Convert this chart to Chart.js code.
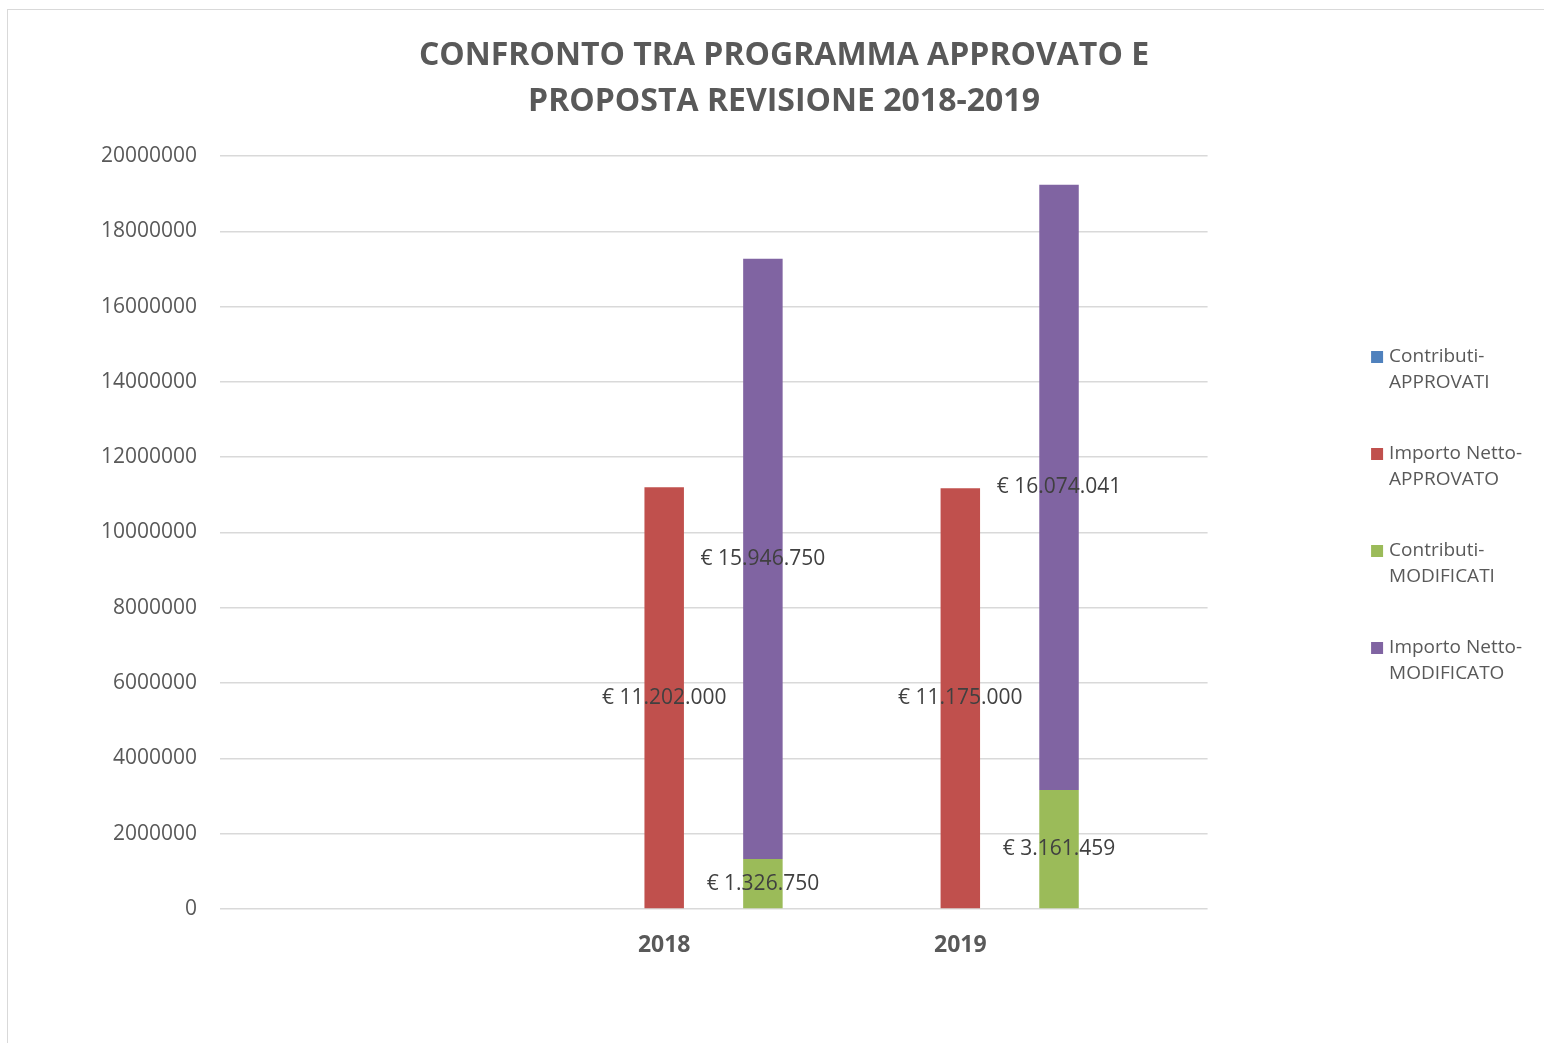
<!DOCTYPE html>
<html>
<head>
<meta charset="utf-8">
<script src="https://cdn.jsdelivr.net/npm/chart.js@4.4.0/dist/chart.umd.min.js"></script>
<style>
    html, body { margin: 0; padding: 0; background: #fff; overflow: hidden; }
    #frame {
        position: absolute; left: 7px; top: 9px;
        width: 1560px; height: 1100px;
        border-top: 1px solid #d9d9d9; border-left: 1px solid #d9d9d9;
    }
    #box { position: relative; width: 1552px; height: 1018px; }
</style>
</head>
<body>
<div id="frame"><div id="box"><canvas id="revisioneChart"></canvas></div></div>
<script>
// Data
const years = [2018, 2019];
const contributiApprovati = [0, 0];
const nettoApprovato = [11202000, 11175000];
const contributiModificati = [1326750, 3161459];
const nettoModificato = [15946750, 16074041];
const seriesNames = ['Contributi-APPROVATI', 'Importo Netto-APPROVATO', 'Contributi-MODIFICATI', 'Importo Netto-MODIFICATO'];
const titleLines = ['CONFRONTO TRA PROGRAMMA APPROVATO E', 'PROPOSTA REVISIONE 2018-2019'];
const yMax = 20000000;
const yStep = 2000000;
const xMin = 2016.5;
const xMax = 2019.835;

const grey = '#595959';
Chart.defaults.font.family = "'Open Sans', sans-serif";
Chart.defaults.color = grey;

function points(values) {
    return years.map((yr, i) => ({ x: yr, y: values[i] }));
}

// € 11.202.000 style
function euro(v) {
    return '€ ' + String(v).replace(/\B(?=(\d{3})+(?!\d))/g, '.');
}

// Draws the value of each segment in its middle
const valueLabels = {
    id: 'valueLabels',
    afterDatasetsDraw(chart) {
        const ctx = chart.ctx;
        ctx.save();
        ctx.font = "21px 'Open Sans', sans-serif";
        ctx.fillStyle = '#404040';
        ctx.textAlign = 'center';
        ctx.textBaseline = 'middle';
        chart.data.datasets.forEach((ds, di) => {
            const meta = chart.getDatasetMeta(di);
            meta.data.forEach((bar, i) => {
                const v = ds.data[i].y;
                if (!v) return;
                ctx.fillText(euro(v), bar.x, (bar.y + bar.base) / 2);
            });
        });
        ctx.restore();
    }
};

const ctx = document.getElementById('revisioneChart').getContext('2d');
new Chart(ctx, {
    type: 'bar',
    data: {
        datasets: [
            { label: seriesNames[0], data: points(contributiApprovati), backgroundColor: '#4F81BD', stack: 'a' },
            { label: seriesNames[1], data: points(nettoApprovato), backgroundColor: '#C0504D', stack: 'b' },
            { label: seriesNames[2], data: points(contributiModificati), backgroundColor: '#9BBB59', stack: 'c' },
            { label: seriesNames[3], data: points(nettoModificato), backgroundColor: '#8064A2', stack: 'c' }
        ]
    },
    options: {
        responsive: true,
        maintainAspectRatio: false,
        animation: false,
        datasets: { bar: { categoryPercentage: 1.0, barPercentage: 0.4, borderWidth: 0 } },
        layout: { padding: { top: 0, left: 28, right: 28, bottom: 0 } },
        plugins: {
            tooltip: { enabled: false },
            title: {
                display: true,
                text: titleLines,
                color: grey,
                font: { size: 32, weight: 'bold', lineHeight: 46 / 32 },
                padding: { top: 23, bottom: 31 }
            },
            legend: {
                position: 'right',
                align: 'center',
                labels: {
                    usePointStyle: true,
                    pointStyle: 'rect',
                    boxWidth: 5,
                    boxHeight: 12,
                    padding: 45,
                    color: grey,
                    font: { size: 19, lineHeight: 26 / 19 },
                    generateLabels(chart) {
                        const items = Chart.defaults.plugins.legend.labels.generateLabels(chart);
                        items.forEach(it => { it.text = it.text.replace('-', '-\n').split('\n'); });
                        return items;
                    }
                }
            }
        },
        scales: {
            x: {
                type: 'linear',
                min: xMin,
                max: xMax,
                offset: false,
                grid: { display: false, drawTicks: false },
                border: { display: false },
                afterBuildTicks(scale) { scale.ticks = years.map(v => ({ value: v })); },
                afterFit(scale) { scale.height = 119; },
                ticks: {
                    padding: 23,
                    color: grey,
                    font: { size: 23, weight: 'bold' },
                    callback: v => String(v)
                }
            },
            y: {
                min: 0,
                max: yMax,
                grid: { color: '#d9d9d9', lineWidth: 1.5, drawTicks: false },
                border: { display: false },
                afterFit(scale) { scale.width = 184; },
                ticks: {
                    stepSize: yStep,
                    padding: 23,
                    color: grey,
                    font: { size: 21 },
                    callback: v => String(v)
                }
            },
            // empty space between plot and legend
            gap: {
                type: 'linear',
                position: 'right',
                grid: { display: false },
                border: { display: false },
                ticks: { display: false },
                afterFit(scale) { scale.width = 122; }
            }
        }
    },
    plugins: [valueLabels]
});
</script>
</body>
</html>
